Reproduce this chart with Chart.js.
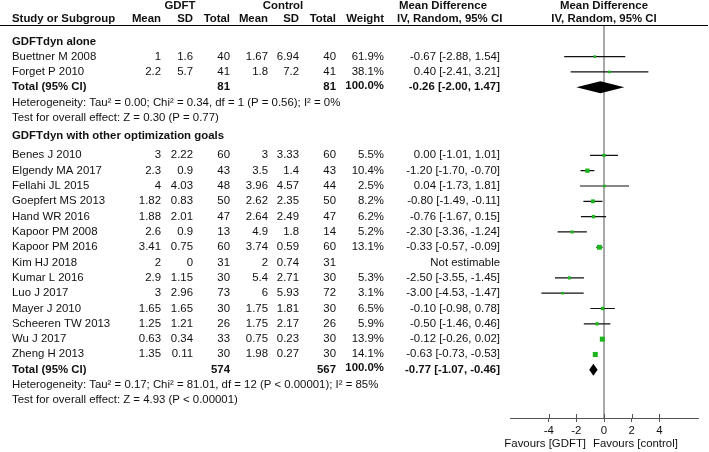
<!DOCTYPE html>
<html>
<head>
<meta charset="utf-8">
<title>Forest plot - GDFT vs control</title>
<script src="https://cdn.jsdelivr.net/npm/chart.js@4.4.0/dist/chart.umd.min.js"></script>
<style>
  html, body { margin: 0; padding: 0; background: #fff; }
  #wrap { width: 709px; height: 452px; }
</style>
</head>
<body>
<div id="wrap"><canvas id="forest" width="709" height="452"></canvas></div>
<script>
// study level data
const studies = ['Buettner M 2008', 'Forget P 2010', 'Benes J 2010', 'Elgendy MA 2017', 'Fellahi JL 2015',
  'Goepfert MS 2013', 'Hand WR 2016', 'Kapoor PM 2008', 'Kapoor PM 2016', 'Kim HJ 2018', 'Kumar L 2016',
  'Luo J 2017', 'Mayer J 2010', 'Scheeren TW 2013', 'Wu J 2017', 'Zheng H 2013'];
const subgroup = [0, 0, 1, 1, 1, 1, 1, 1, 1, 1, 1, 1, 1, 1, 1, 1];
const gdftMean = [1, 2.2, 3, 2.3, 4, 1.82, 1.88, 2.6, 3.41, 2, 2.9, 3, 1.65, 1.25, 0.63, 1.35];
const gdftSD = [1.6, 5.7, 2.22, 0.9, 4.03, 0.83, 2.01, 0.9, 0.75, 0, 1.15, 2.96, 1.65, 1.21, 0.34, 0.11];
const gdftTotal = [40, 41, 60, 43, 48, 50, 47, 13, 60, 31, 30, 73, 30, 26, 33, 30];
const ctrlMean = [1.67, 1.8, 3, 3.5, 3.96, 2.62, 2.64, 4.9, 3.74, 2, 5.4, 6, 1.75, 1.75, 0.75, 1.98];
const ctrlSD = [6.94, 7.2, 3.33, 1.4, 4.57, 2.35, 2.49, 1.8, 0.59, 0.74, 2.71, 5.93, 1.81, 2.17, 0.23, 0.27];
const ctrlTotal = [40, 41, 60, 43, 44, 50, 47, 14, 60, 31, 30, 72, 30, 26, 30, 30];
const weight = [61.9, 38.1, 5.5, 10.4, 2.5, 8.2, 6.2, 5.2, 13.1, null, 5.3, 3.1, 6.5, 5.9, 13.9, 14.1];
const meanDiff = [-0.67, 0.40, 0.00, -1.20, 0.04, -0.80, -0.76, -2.30, -0.33, null, -2.50, -3.00, -0.10, -0.50, -0.12, -0.63];
const ciLow = [-2.88, -2.41, -1.01, -1.70, -1.73, -1.49, -1.67, -3.36, -0.57, null, -3.55, -4.53, -0.98, -1.46, -0.26, -0.73];
const ciHigh = [1.54, 3.21, 1.01, -0.70, 1.81, -0.11, 0.15, -1.24, -0.09, null, -1.45, -1.47, 0.78, 0.46, 0.02, -0.53];

// subgroup totals
const subgroupNames = ['GDFTdyn alone', 'GDFTdyn with other optimization goals'];
const subGdftTotal = [81, 574];
const subCtrlTotal = [81, 567];
const subMeanDiff = [-0.26, -0.77];
const subLow = [-2.00, -1.07];
const subHigh = [1.47, -0.46];
const subTau2 = [0.00, 0.17];
const heterogeneity = [
  'Heterogeneity: Tau² = 0.00; Chi² = 0.34, df = 1 (P = 0.56); I² = 0%',
  'Heterogeneity: Tau² = 0.17; Chi² = 81.01, df = 12 (P < 0.00001); I² = 85%'
];
const overallEffect = [
  'Test for overall effect: Z = 0.30 (P = 0.77)',
  'Test for overall effect: Z = 4.93 (P < 0.00001)'
];
const xTicks = [-4, -2, 0, 2, 4];

// ---- row layout (values on the hidden y scale) ----
const HEAD_OFFSET = [0.95, 1.25];
const ROW_GAP = 2.45;
const studyRow = [], headRow = [], totalRow = [], hetRow = [], testRow = [];
let r = 0;
subgroupNames.forEach((name, g) => {
  headRow.push(r - HEAD_OFFSET[g]);
  studies.forEach((s, i) => { if (subgroup[i] === g) studyRow[i] = r++; });
  totalRow.push(r); hetRow.push(r + 1); testRow.push(r + 2);
  r += 2 + ROW_GAP;
});

// CI segments, split with NaN gaps
const ciData = [];
const pointData = [];
const pointSize = [];
studies.forEach((s, i) => {
  if (meanDiff[i] === null) return;
  ciData.push({x: ciLow[i], y: studyRow[i]}, {x: ciHigh[i], y: studyRow[i]}, {x: NaN, y: NaN});
  pointData.push({x: meanDiff[i], y: studyRow[i]});
  // square size from random effects weight 1/(se^2 + tau^2)
  const se = (ciHigh[i] - ciLow[i]) / (2 * 1.96);
  const w = 1 / (se * se + subTau2[subgroup[i]]);
  const side = Math.max(2.6, 2.1 * Math.sqrt(w));
  pointSize.push(side / Math.SQRT2);
});

const col = { study: 12, gMean: 161, gSD: 193, gTot: 230, cMean: 268, cSD: 299, cTot: 336, weight: 384, ci: 500, ciHead: 397 };
const FONT = '11.4px Arial';
const BOLD = 'bold 11.4px Arial';
const fmt = v => v.toFixed(2);

const forestTable = {
  id: 'forestTable',
  beforeDatasetsDraw(chart) {
    const {ctx, chartArea, scales: {x}} = chart;
    const x0 = x.getPixelForValue(0);
    ctx.save();
    ctx.strokeStyle = '#8c8c8c';
    ctx.lineWidth = 1.5;
    ctx.beginPath();
    ctx.moveTo(x0, chartArea.top);
    ctx.lineTo(x0, chartArea.bottom);
    ctx.stroke();
    ctx.restore();
  },
  afterDatasetsDraw(chart) {
    const {ctx, scales: {x, y}} = chart;
    ctx.save();
    ctx.fillStyle = '#000';
    subMeanDiff.forEach((m, g) => {
      const py = y.getPixelForValue(totalRow[g]);
      ctx.beginPath();
      ctx.moveTo(x.getPixelForValue(subLow[g]), py);
      ctx.lineTo(x.getPixelForValue(m), py - 6);
      ctx.lineTo(x.getPixelForValue(subHigh[g]), py);
      ctx.lineTo(x.getPixelForValue(m), py + 6);
      ctx.closePath();
      ctx.fill();
    });
    ctx.restore();
  },
  afterDraw(chart) {
    const {ctx, chartArea, scales: {x, y}} = chart;
    const x0 = x.getPixelForValue(0);
    ctx.save();
    ctx.fillStyle = '#111';
    ctx.textBaseline = 'middle';
    const txt = (s, px, row, align, bold) => {
      ctx.font = bold ? BOLD : FONT;
      ctx.textAlign = align || 'right';
      ctx.fillText(s, px, Math.round(y.getPixelForValue(row)));
    };

    // header
    const h1 = -3.3, h2 = -2.45;
    txt('GDFT', 180, h1, 'center', true);
    txt('Control', 283, h1, 'center', true);
    txt('Mean Difference', col.ciHead + 2, h1, 'left', true);
    txt('Mean Difference', x0, h1, 'center', true);
    txt('Study or Subgroup', col.study, h2, 'left', true);
    txt('Mean', col.gMean, h2, 'right', true);
    txt('SD', col.gSD, h2, 'right', true);
    txt('Total', col.gTot, h2, 'right', true);
    txt('Mean', col.cMean, h2, 'right', true);
    txt('SD', col.cSD, h2, 'right', true);
    txt('Total', col.cTot, h2, 'right', true);
    txt('Weight', col.weight, h2, 'right', true);
    txt('IV, Random, 95% CI', col.ciHead, h2, 'left', true);
    txt('IV, Random, 95% CI', x0, h2, 'center', true);

    ctx.strokeStyle = '#000';
    ctx.lineWidth = 1;
    ctx.beginPath();
    ctx.moveTo(0, chartArea.top - 0.5);
    ctx.lineTo(708, chartArea.top - 0.5);
    ctx.stroke();

    // studies
    studies.forEach((s, i) => {
      const row = studyRow[i];
      txt(s, col.study, row, 'left');
      txt(String(gdftMean[i]), col.gMean, row);
      txt(String(gdftSD[i]), col.gSD, row);
      txt(String(gdftTotal[i]), col.gTot, row);
      txt(String(ctrlMean[i]), col.cMean, row);
      txt(String(ctrlSD[i]), col.cSD, row);
      txt(String(ctrlTotal[i]), col.cTot, row);
      if (meanDiff[i] === null) {
        txt('Not estimable', col.ci, row);
      } else {
        txt(weight[i].toFixed(1) + '%', col.weight, row);
        txt(fmt(meanDiff[i]) + ' [' + fmt(ciLow[i]) + ', ' + fmt(ciHigh[i]) + ']', col.ci, row);
      }
    });

    // subgroup headers and totals
    subgroupNames.forEach((name, g) => {
      txt(name, col.study, headRow[g], 'left', true);
      txt('Total (95% CI)', col.study, totalRow[g], 'left', true);
      txt(String(subGdftTotal[g]), col.gTot, totalRow[g], 'right', true);
      txt(String(subCtrlTotal[g]), col.cTot, totalRow[g], 'right', true);
      txt('100.0%', col.weight, totalRow[g] - 0.1, 'right', true);
      txt(fmt(subMeanDiff[g]) + ' [' + fmt(subLow[g]) + ', ' + fmt(subHigh[g]) + ']', col.ci, totalRow[g], 'right', true);
      txt(heterogeneity[g], col.study, hetRow[g], 'left');
      txt(overallEffect[g], col.study, testRow[g], 'left');
    });

    // upper half of the axis tick marks
    ctx.strokeStyle = '#555';
    ctx.beginPath();
    xTicks.forEach(v => {
      const px = Math.round(x.getPixelForValue(v)) + 0.5;
      ctx.moveTo(px, chartArea.bottom - 4);
      ctx.lineTo(px, chartArea.bottom);
    });
    ctx.stroke();

    // favours labels
    const fy = chartArea.bottom + 26;
    ctx.font = FONT;
    ctx.textAlign = 'right';
    ctx.fillText('Favours [GDFT]', x0 - 18, fy);
    ctx.textAlign = 'left';
    ctx.fillText('Favours [control]', x0 - 11, fy);
    ctx.restore();
  }
};

const ctx = document.getElementById('forest').getContext('2d');
new Chart(ctx, {
  type: 'scatter',
  data: {
    datasets: [{
      label: 'Mean difference',
      data: pointData,
      pointStyle: 'rect',
      pointRadius: pointSize,
      backgroundColor: '#1db51d',
      borderWidth: 0,
      order: 0
    }, {
      label: '95% CI',
      data: ciData,
      showLine: true,
      spanGaps: false,
      borderColor: '#111',
      borderWidth: 1.2,
      pointRadius: 0,
      order: 1
    }]
  },
  options: {
    responsive: false,
    animation: false,
    devicePixelRatio: 1,
    layout: { padding: { left: 510, right: 11, top: 26, bottom: 0 } },
    plugins: { legend: { display: false }, tooltip: { enabled: false } },
    scales: {
      x: {
        type: 'linear',
        min: -6.8,
        max: 6.8,
        afterBuildTicks: scale => { scale.ticks = xTicks.map(v => ({ value: v })); },
        afterFit: scale => { scale.height = 34; },
        grid: { display: true, drawOnChartArea: false, drawTicks: true, tickLength: 4, color: '#555' },
        border: { display: true, color: '#555', width: 1 },
        ticks: { color: '#111', font: { family: 'Arial', size: 11.4 }, padding: 2, maxRotation: 0 }
      },
      y: {
        type: 'linear',
        display: false,
        reverse: true,
        min: -2,
        max: 23.6
      }
    }
  },
  plugins: [forestTable]
});
</script>
</body>
</html>
